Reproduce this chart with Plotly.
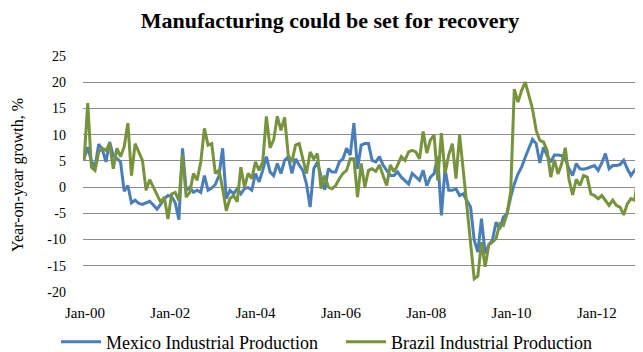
import plotly.graph_objects as go

# ---- data (monthly) ----
mexico = [
    5.5, 7.6, 5.0, 3.8, 8.2, 7.2, 4.8, 8.6, 6.0, 5.5,
    4.8, -0.8, 0.3, -3.0, -2.5, -3.1, -3.3, -3.0, -2.7, -3.4,
    -4.2, -3.3, -2.2, -1.6, -1.8, -3.0, -6.2, 7.4, -0.6, 0.0,
    -1.0, -0.6, -1.0, 2.2, -0.6, -0.2, 0.5, 2.2, 7.4, -2.2,
    -0.6, -1.3, -0.3, -1.3, -0.3, -0.1, -0.6, 2.6, 1.0, 3.2,
    5.8, 2.9, 2.2, 4.5, 2.6, 5.1, 5.8, 2.6, 5.4, 4.2,
    3.2, 0.6, -3.8, 3.5, 4.8, 2.0, -0.5, 3.5, 2.9, 2.9,
    4.8, 5.4, 7.4, 6.1, 12.2, 3.5, 8.0, 8.3, 8.3, 5.1,
    4.8, 5.8, 4.2, 3.2, 2.2, 2.2, 2.9, 1.9, 1.3, 0.6,
    2.6, 1.9, 1.3, 3.2, 0.3, 1.9, 2.6, 5.8, -5.4, 3.5,
    -0.6, -0.6, -0.3, -1.6, -1.3, -2.6, -3.8, -10.1, -12.4, -6.0,
    -12.7, -11.0, -10.1, -6.7, -8.0, -5.7, -5.1, -1.9, 0.6, 2.5,
    3.8, 5.7, 7.3, 9.1, 8.3, 4.6, 7.6, 6.0, 4.8, 6.1,
    6.1, 6.0, 5.3, 3.5, 2.2, 4.5, 3.5, 3.4, 3.6, 3.9,
    4.1, 3.2, 4.6, 6.4, 3.5, 4.1, 4.1, 4.3, 5.1, 3.5,
    2.2, 3.2, 2.5, 2.9,
]

brazil = [
    5.1, 16.0, 3.8, 3.2, 6.7, 7.4, 7.0, 8.3, 3.5, 7.4,
    5.8, 7.7, 12.2, 2.2, 8.3, 6.7, 5.1, -0.6, 1.4, 0.0,
    -1.6, -2.9, -1.9, -6.1, -1.3, -1.0, -2.6, 6.1, -1.9, -1.0,
    2.6, 1.3, 4.8, 11.2, 8.0, 8.3, 2.6, 3.2, -0.3, -4.5,
    -2.2, -1.6, -2.8, 3.8, 0.0, 2.6, 1.6, 4.8, 3.2, 4.8,
    13.5, 7.5, 9.0, 13.5, 10.8, 13.3, 6.1, 4.8, 8.0, 8.3,
    5.4, 2.6, 6.7, 5.4, 6.4, -0.3, 2.2, 0.0, -0.3, 0.3,
    1.6, 2.6, 3.2, 5.4, 5.4, -1.9, 4.5, 0.0, 3.2, 3.5,
    3.0, 4.2, 2.2, 0.3, 4.2, 2.9, 4.2, 5.8, 5.1, 6.7,
    7.0, 6.7, 5.4, 10.6, 6.5, 9.0, 9.9, 1.3, 10.3, 2.6,
    6.1, 8.3, 1.6, 9.9, 3.2, -3.8, -10.9, -17.5, -17.0, -10.5,
    -15.2, -11.0, -10.5, -9.8, -7.0, -7.3, -5.1, -1.0, 18.7, 16.2,
    18.4, 20.0, 17.5, 14.9, 10.8, 8.9, 8.6, 7.0, 1.9, 5.2,
    2.5, 4.5, 7.5, 1.5, -1.5, 1.5, 0.3, 2.2, 1.9, -1.3,
    -1.6, -2.2, -1.6, -2.5, -3.5, -2.5, -3.5, -3.8, -5.3, -3.2,
    -2.2, -2.5, 2.5, -0.8,
]

month_names = ["Jan", "Feb", "Mar", "Apr", "May", "Jun",
               "Jul", "Aug", "Sep", "Oct", "Nov", "Dec"]
months = [f"{month_names[k % 12]}-{(k // 12):02d}" for k in range(len(mexico))]

x_tick_labels = ["Jan-00", "Jan-02", "Jan-04", "Jan-06", "Jan-08", "Jan-10", "Jan-12"]
y_tick_values = [25, 20, 15, 10, 5, 0, -5, -10, -15, -20]
y_tick_labels = ["25", "20", "15", "10", "5", "0", "-5", "-10", "-15", "-20"]

series_names = ["Mexico Industrial Production", "Brazil Industrial Production"]

# ---- styling ----
FONT = "Liberation Serif, Times New Roman, serif"
BLUE = "#4A7EBB"
GREEN = "#77933C"
GRID = "#8C8C8C"

# The page body has an 8px default margin, so the figure is 8px smaller
# than the 643x352 window and all placements are relative to that.
W, H = 635, 344

x_index = list(range(len(mexico)))
label_first = 0.25   # position of first axis label (in points)
label_step = 23.4    # spacing of the axis labels (in points)

fig = go.Figure()
fig.add_trace(go.Scatter(x=x_index, y=mexico, mode="lines", name=series_names[0],
                         legend="legend",
                         customdata=months, hovertemplate="%{customdata}: %{y}<extra></extra>",
                         line=dict(color=BLUE, width=3)))
fig.add_trace(go.Scatter(x=x_index, y=brazil, mode="lines", name=series_names[1],
                         legend="legend2",
                         customdata=months, hovertemplate="%{customdata}: %{y}<extra></extra>",
                         line=dict(color=GREEN, width=3)))

legend_style = dict(orientation="h", xref="container", yref="container",
                    xanchor="left", y=1 - 334 / H, yanchor="middle",
                    font=dict(family=FONT, size=18, color="black"),
                    itemwidth=40, bgcolor="rgba(0,0,0,0)")

fig.update_layout(
    width=W, height=H,
    margin=dict(l=75, r=0, t=48, b=60, autoexpand=False),
    paper_bgcolor="white", plot_bgcolor="white",
    font=dict(family=FONT, size=14, color="black"),
    title=dict(text="<b>Manufacturing could be set for recovery</b>",
               x=322 / W, xanchor="center", xref="container",
               y=1 - 12 / H, yanchor="middle", yref="container",
               font=dict(family=FONT, size=22, color="black")),
    showlegend=True,
    legend=dict(legend_style, x=48 / W),
    legend2=dict(legend_style, x=333 / W),
    xaxis=dict(range=[-0.3, len(mexico) - 1 + 0.3],
               tickvals=[label_first + k * label_step for k in range(len(x_tick_labels))],
               ticktext=x_tick_labels, ticklabelstandoff=10,
               showgrid=False, zeroline=False, showline=False, ticks="",
               tickfont=dict(family=FONT, size=15, color="black")),
    yaxis=dict(range=[-20, 25], tickvals=y_tick_values, ticktext=y_tick_labels,
               showgrid=True, gridcolor=GRID, gridwidth=1,
               zeroline=False, showline=False, ticks="", ticklabelstandoff=16,
               tickfont=dict(family=FONT, size=14, color="black")),
    annotations=[dict(text="Year-on-year growth, %", textangle=-90,
                      xref="paper", yref="paper", x=(18 - 83) / 560, y=0.496,
                      xanchor="center", yanchor="middle", showarrow=False,
                      font=dict(family=FONT, size=16, color="black"))],
)

fig.write_html("out.html")
